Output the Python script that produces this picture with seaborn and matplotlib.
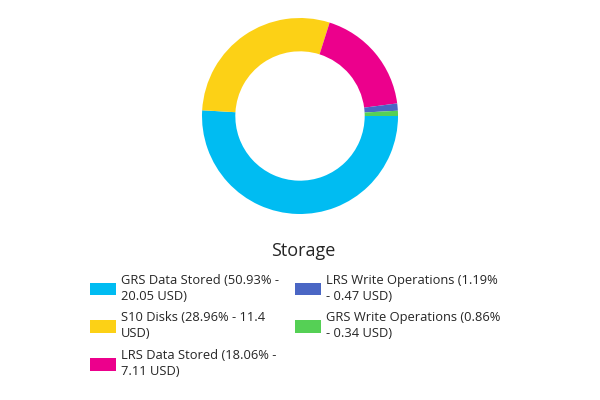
import matplotlib
matplotlib.use("Agg")
import matplotlib.pyplot as plt
import matplotlib.patches as mpatches
import seaborn as sns

# storage cost breakdown
labels = ["GRS Data Stored", "S10 Disks", "LRS Data Stored",
          "LRS Write Operations", "GRS Write Operations"]
percents = [50.93, 28.96, 18.06, 1.19, 0.86]
costs = ["20.05", "11.4", "7.11", "0.47", "0.34"]
legend_text = ["GRS Data Stored (50.93% -\n20.05 USD)",
               "S10 Disks (28.96% - 11.4\nUSD)",
               "LRS Data Stored (18.06% -\n7.11 USD)",
               "LRS Write Operations (1.19%\n- 0.47 USD)",
               "GRS Write Operations (0.86%\n- 0.34 USD)"]
colours = ["#00BCF2", "#FCD116", "#EC008C", "#4A66C4", "#55D055"]

sns.set_theme(style="white")
plt.rcParams['font.family'] = ['Open Sans', 'DejaVu Sans']
palette = sns.color_palette(colours)

fig = plt.figure(figsize=(6, 4), dpi=100)
ax = fig.add_axes([0.5 - 98 / 600, (400 - 116 - 98) / 400, 196 / 600, 196 / 400])
ax.pie(percents, colors=palette, startangle=0, counterclock=False,
       radius=1, wedgeprops=dict(width=0.34, linewidth=0))
ax.set_xlim(-1, 1)
ax.set_ylim(-1, 1)
ax.set_aspect("equal")
ax.axis("off")

# title drawn separately so it sits where the reference puts it
fig.text(0.505, 0.36, "Storage", ha="center", va="baseline",
         fontsize=13, color="#252525")

handles = [mpatches.Patch(color=c, linewidth=0) for c in palette]
leg = fig.legend(handles, legend_text, loc="upper center",
                 bbox_to_anchor=(0.492, 0.345), ncol=2, frameon=False,
                 fontsize=9.3, handlelength=2.0,
                 handleheight=1.1, handletextpad=0.4, columnspacing=1.2,
                 labelspacing=0.68)
for t in leg.get_texts():
    t.set_color("#252525")
    t.set_linespacing(1.3)

fig.savefig("out.png", dpi=100)
